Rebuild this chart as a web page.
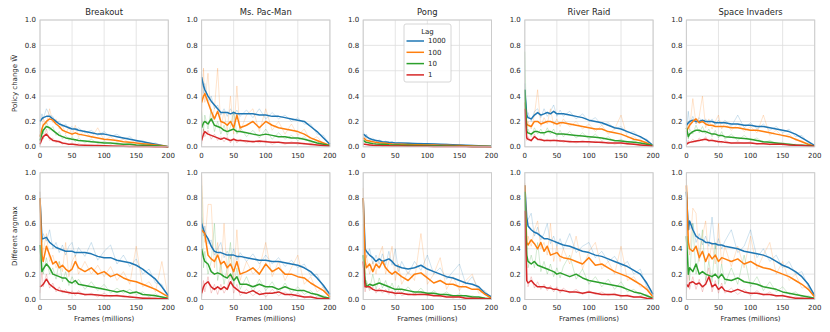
<!DOCTYPE html>
<html>
<head>
<meta charset="utf-8">
<script src="https://cdn.jsdelivr.net/npm/d3@7"></script>
<style>
  body { margin: 0; background: #fff; }
  text { font-family: "DejaVu Sans", sans-serif; fill: #262626; }
</style>
</head>
<body>
<script>
// x positions (millions of frames) shared by every series
const frames = [0, 3, 5, 10, 15, 20, 25, 30, 35, 40, 45, 50, 55, 60, 70, 80, 90, 100, 110, 120, 130, 140, 150, 160, 170, 180, 190, 200]

const games = ['Breakout', 'Ms. Pac-Man', 'Pong', 'River Raid', 'Space Invaders']
const lags = ['1000', '100', '10', '1']
const lagColors = ['#1f77b4', '#ff7f0e', '#2ca02c', '#d62728']
const rowLabels = ['Policy change W\u0305', 'Different argmax']
const xTicks = [0, 50, 100, 150, 200]
const yTicks = [0, 0.2, 0.4, 0.6, 0.8, 1.0]

// policy change means, rows in lag order 1000, 100, 10, 1
const policyBreakout = [
  [0.2, 0.22, 0.23, 0.24, 0.24, 0.22, 0.2, 0.18, 0.17, 0.16, 0.15, 0.14, 0.14, 0.13, 0.12, 0.11, 0.1, 0.1, 0.09, 0.08, 0.07, 0.06, 0.05, 0.04, 0.03, 0.02, 0.01, 0.0],
  [0.08, 0.14, 0.17, 0.2, 0.22, 0.21, 0.18, 0.16, 0.13, 0.12, 0.11, 0.1, 0.11, 0.1, 0.09, 0.08, 0.07, 0.06, 0.055, 0.05, 0.04, 0.035, 0.03, 0.025, 0.02, 0.015, 0.008, 0.0],
  [0.05, 0.1, 0.13, 0.16, 0.15, 0.13, 0.11, 0.09, 0.08, 0.07, 0.065, 0.06, 0.055, 0.05, 0.045, 0.04, 0.035, 0.03, 0.03, 0.025, 0.02, 0.02, 0.015, 0.012, 0.01, 0.008, 0.005, 0.0],
  [0.02, 0.06, 0.08, 0.1, 0.07, 0.05, 0.045, 0.04, 0.03, 0.025, 0.02, 0.02, 0.018, 0.015, 0.012, 0.01, 0.01, 0.008, 0.006, 0.005, 0.004, 0.003, 0.003, 0.002, 0.002, 0.001, 0.001, 0.0]
]
const policyPacman = [
  [0.55, 0.48, 0.45, 0.4, 0.36, 0.33, 0.3, 0.27, 0.27, 0.27, 0.26, 0.27, 0.26, 0.26, 0.26, 0.26, 0.25, 0.25, 0.24, 0.24, 0.23, 0.22, 0.21, 0.2, 0.16, 0.12, 0.07, 0.02],
  [0.35, 0.4, 0.42, 0.35, 0.28, 0.22, 0.28, 0.2, 0.19, 0.17, 0.2, 0.15, 0.25, 0.15, 0.17, 0.2, 0.15, 0.2, 0.17, 0.15, 0.14, 0.13, 0.12, 0.1, 0.07, 0.05, 0.03, 0.01],
  [0.15, 0.19, 0.2, 0.18, 0.22, 0.17, 0.16, 0.15, 0.13, 0.12, 0.13, 0.14, 0.12, 0.12, 0.11, 0.1, 0.09, 0.1, 0.09, 0.08, 0.08, 0.07, 0.07, 0.06, 0.045, 0.03, 0.02, 0.01],
  [0.05, 0.1, 0.12, 0.1, 0.09, 0.08, 0.07, 0.06, 0.07, 0.06, 0.05, 0.06, 0.05, 0.05, 0.045, 0.04, 0.045, 0.04, 0.035, 0.035, 0.03, 0.03, 0.03, 0.025, 0.02, 0.015, 0.01, 0.005]
]
const policyPong = [
  [0.1, 0.09, 0.08, 0.065, 0.055, 0.05, 0.045, 0.04, 0.038, 0.035, 0.033, 0.03, 0.03, 0.03, 0.028, 0.027, 0.025, 0.025, 0.022, 0.02, 0.018, 0.016, 0.015, 0.012, 0.01, 0.008, 0.006, 0.004],
  [0.07, 0.06, 0.05, 0.045, 0.04, 0.035, 0.032, 0.03, 0.028, 0.025, 0.022, 0.02, 0.02, 0.02, 0.018, 0.017, 0.016, 0.015, 0.014, 0.013, 0.012, 0.011, 0.01, 0.008, 0.006, 0.005, 0.004, 0.003],
  [0.05, 0.04, 0.035, 0.03, 0.025, 0.022, 0.02, 0.02, 0.018, 0.016, 0.015, 0.015, 0.014, 0.013, 0.012, 0.011, 0.01, 0.01, 0.009, 0.008, 0.007, 0.006, 0.005, 0.004, 0.003, 0.003, 0.002, 0.002],
  [0.02, 0.02, 0.018, 0.015, 0.012, 0.01, 0.01, 0.009, 0.008, 0.008, 0.007, 0.007, 0.006, 0.006, 0.005, 0.005, 0.004, 0.004, 0.003, 0.003, 0.003, 0.002, 0.002, 0.002, 0.001, 0.001, 0.001, 0.001]
]
const policyRiver = [
  [0.45, 0.25, 0.23, 0.22, 0.25, 0.27, 0.25, 0.26, 0.27, 0.26, 0.28, 0.26, 0.26, 0.26, 0.25, 0.24, 0.23, 0.21, 0.2, 0.19, 0.17, 0.15, 0.14, 0.12, 0.1, 0.08, 0.05, 0.01],
  [0.35, 0.18, 0.17, 0.16, 0.2, 0.2, 0.18, 0.19, 0.2, 0.2, 0.19, 0.18, 0.19, 0.19, 0.18, 0.17, 0.16, 0.15, 0.14, 0.14, 0.12, 0.11, 0.1, 0.08, 0.06, 0.05, 0.03, 0.005],
  [0.45, 0.12, 0.11, 0.1, 0.12, 0.12, 0.11, 0.11, 0.12, 0.12, 0.11, 0.1, 0.1, 0.1, 0.095, 0.09, 0.085, 0.08, 0.075, 0.07, 0.06, 0.05, 0.045, 0.04, 0.035, 0.03, 0.02, 0.01],
  [0.3, 0.07, 0.06, 0.05, 0.08, 0.06, 0.055, 0.05, 0.05, 0.05, 0.05, 0.05, 0.045, 0.045, 0.04, 0.04, 0.04, 0.04, 0.035, 0.035, 0.03, 0.03, 0.03, 0.025, 0.02, 0.015, 0.01, 0.005]
]
const policyInvaders = [
  [0.17, 0.19, 0.2, 0.21, 0.2, 0.2, 0.21, 0.2, 0.2, 0.2, 0.19, 0.19, 0.19, 0.19, 0.18, 0.18, 0.17, 0.17, 0.16, 0.16, 0.15, 0.14, 0.13, 0.12, 0.1, 0.07, 0.04, 0.01],
  [0.12, 0.15, 0.17, 0.2, 0.22, 0.19, 0.2, 0.18, 0.17, 0.17, 0.16, 0.16, 0.16, 0.16, 0.15, 0.15, 0.14, 0.13, 0.13, 0.12, 0.11, 0.1, 0.09, 0.08, 0.06, 0.04, 0.02, 0.005],
  [0.15, 0.08, 0.1, 0.12, 0.13, 0.13, 0.12, 0.12, 0.11, 0.1, 0.1, 0.09, 0.09, 0.08, 0.075, 0.07, 0.065, 0.06, 0.05, 0.04, 0.035, 0.03, 0.025, 0.02, 0.015, 0.012, 0.01, 0.005],
  [0.02, 0.03, 0.035, 0.04, 0.045, 0.05, 0.055, 0.06, 0.05, 0.05, 0.045, 0.04, 0.04, 0.035, 0.03, 0.03, 0.03, 0.03, 0.025, 0.025, 0.02, 0.02, 0.02, 0.015, 0.012, 0.01, 0.007, 0.004]
]

// policy change, one faint single-seed trace per lag
const policySeedBreakout = [
  [0.17, 0.26, 0.22, 0.3, 0.25, 0.24, 0.19, 0.2, 0.16, 0.18, 0.14, 0.16, 0.13, 0.15, 0.11, 0.13, 0.09, 0.12, 0.08, 0.1, 0.06, 0.08, 0.04, 0.05, 0.02, 0.03, 0.01, 0.005],
  [0.12, 0.1, 0.22, 0.18, 0.3, 0.19, 0.22, 0.14, 0.17, 0.1, 0.16, 0.09, 0.17, 0.08, 0.13, 0.07, 0.15, 0.05, 0.08, 0.04, 0.06, 0.03, 0.05, 0.02, 0.03, 0.01, 0.015, 0.002],
  [0.08, 0.14, 0.1, 0.2, 0.13, 0.16, 0.09, 0.12, 0.06, 0.09, 0.05, 0.08, 0.04, 0.07, 0.03, 0.06, 0.025, 0.045, 0.02, 0.035, 0.015, 0.03, 0.01, 0.02, 0.005, 0.012, 0.002, 0.001],
  [0.04, 0.09, 0.06, 0.14, 0.05, 0.07, 0.03, 0.05, 0.02, 0.035, 0.015, 0.03, 0.01, 0.025, 0.008, 0.015, 0.005, 0.012, 0.004, 0.008, 0.003, 0.005, 0.002, 0.004, 0.001, 0.002, 0.001, 0.0]
]
const policySeedPacman = [
  [0.58, 0.42, 0.5, 0.36, 0.4, 0.3, 0.33, 0.25, 0.3, 0.24, 0.3, 0.25, 0.29, 0.24, 0.29, 0.23, 0.3, 0.22, 0.27, 0.22, 0.25, 0.2, 0.23, 0.18, 0.18, 0.1, 0.09, 0.01],
  [0.25, 0.62, 0.35, 0.58, 0.2, 0.3, 0.62, 0.15, 0.28, 0.12, 0.4, 0.1, 0.48, 0.12, 0.25, 0.3, 0.12, 0.3, 0.13, 0.2, 0.1, 0.18, 0.09, 0.14, 0.05, 0.08, 0.02, 0.01],
  [0.28, 0.12, 0.25, 0.14, 0.3, 0.12, 0.2, 0.1, 0.17, 0.09, 0.16, 0.28, 0.1, 0.15, 0.08, 0.13, 0.07, 0.14, 0.06, 0.11, 0.06, 0.09, 0.05, 0.08, 0.03, 0.04, 0.01, 0.005],
  [0.02, 0.14, 0.08, 0.13, 0.06, 0.1, 0.05, 0.08, 0.04, 0.08, 0.03, 0.07, 0.03, 0.06, 0.03, 0.05, 0.03, 0.05, 0.02, 0.04, 0.02, 0.04, 0.02, 0.03, 0.01, 0.02, 0.005, 0.003]
]
const policySeedPong = [
  [0.13, 0.07, 0.1, 0.05, 0.07, 0.04, 0.055, 0.035, 0.045, 0.03, 0.04, 0.025, 0.035, 0.025, 0.033, 0.022, 0.03, 0.02, 0.026, 0.018, 0.022, 0.014, 0.018, 0.01, 0.012, 0.006, 0.008, 0.003],
  [0.1, 0.05, 0.07, 0.035, 0.05, 0.03, 0.04, 0.025, 0.035, 0.02, 0.028, 0.017, 0.025, 0.016, 0.022, 0.014, 0.02, 0.012, 0.017, 0.011, 0.015, 0.009, 0.012, 0.006, 0.008, 0.004, 0.005, 0.002],
  [0.07, 0.03, 0.05, 0.025, 0.03, 0.018, 0.025, 0.016, 0.022, 0.013, 0.018, 0.012, 0.017, 0.011, 0.015, 0.009, 0.012, 0.008, 0.011, 0.006, 0.009, 0.005, 0.007, 0.003, 0.004, 0.002, 0.003, 0.001],
  [0.03, 0.015, 0.025, 0.012, 0.016, 0.008, 0.013, 0.007, 0.011, 0.006, 0.009, 0.005, 0.008, 0.005, 0.007, 0.004, 0.005, 0.003, 0.004, 0.002, 0.004, 0.002, 0.003, 0.001, 0.002, 0.001, 0.001, 0.0]
]
const policySeedRiver = [
  [0.5, 0.22, 0.27, 0.2, 0.28, 0.3, 0.23, 0.3, 0.24, 0.28, 0.33, 0.24, 0.29, 0.24, 0.28, 0.22, 0.26, 0.2, 0.23, 0.17, 0.19, 0.14, 0.16, 0.11, 0.12, 0.07, 0.06, 0.01],
  [0.4, 0.15, 0.2, 0.14, 0.25, 0.45, 0.16, 0.23, 0.18, 0.3, 0.17, 0.22, 0.16, 0.22, 0.16, 0.2, 0.14, 0.18, 0.12, 0.17, 0.1, 0.14, 0.25, 0.07, 0.08, 0.04, 0.04, 0.005],
  [0.75, 0.1, 0.14, 0.08, 0.15, 0.1, 0.14, 0.09, 0.15, 0.1, 0.14, 0.08, 0.13, 0.08, 0.12, 0.07, 0.11, 0.06, 0.1, 0.05, 0.08, 0.04, 0.06, 0.03, 0.05, 0.02, 0.03, 0.005],
  [0.35, 0.05, 0.08, 0.04, 0.1, 0.05, 0.07, 0.04, 0.06, 0.04, 0.06, 0.04, 0.055, 0.035, 0.05, 0.03, 0.05, 0.03, 0.045, 0.025, 0.04, 0.02, 0.035, 0.02, 0.025, 0.01, 0.015, 0.003]
]
const policySeedInvaders = [
  [0.14, 0.28, 0.18, 0.24, 0.18, 0.23, 0.19, 0.22, 0.18, 0.22, 0.17, 0.21, 0.18, 0.21, 0.16, 0.25, 0.15, 0.19, 0.14, 0.18, 0.13, 0.16, 0.11, 0.14, 0.08, 0.09, 0.03, 0.01],
  [0.1, 0.2, 0.14, 0.38, 0.18, 0.24, 0.4, 0.15, 0.22, 0.14, 0.2, 0.25, 0.14, 0.19, 0.13, 0.18, 0.12, 0.16, 0.11, 0.25, 0.09, 0.13, 0.08, 0.1, 0.05, 0.05, 0.015, 0.003],
  [0.2, 0.06, 0.14, 0.1, 0.17, 0.11, 0.16, 0.1, 0.14, 0.08, 0.13, 0.07, 0.12, 0.06, 0.1, 0.05, 0.09, 0.05, 0.07, 0.03, 0.05, 0.025, 0.035, 0.015, 0.02, 0.008, 0.012, 0.003],
  [0.01, 0.05, 0.03, 0.06, 0.035, 0.07, 0.045, 0.08, 0.04, 0.065, 0.035, 0.055, 0.03, 0.05, 0.025, 0.04, 0.025, 0.04, 0.02, 0.035, 0.015, 0.03, 0.015, 0.02, 0.008, 0.014, 0.005, 0.003]
]

// different argmax means, rows in lag order 1000, 100, 10, 1
const argmaxBreakout = [
  [0.8, 0.48, 0.48, 0.49, 0.45, 0.43, 0.41, 0.4, 0.39, 0.38, 0.38, 0.38, 0.37, 0.37, 0.37, 0.36, 0.34, 0.33, 0.33, 0.31, 0.3, 0.29, 0.27, 0.24, 0.2, 0.16, 0.1, 0.03],
  [0.8, 0.35, 0.3, 0.42, 0.35, 0.28, 0.3, 0.25, 0.27, 0.24, 0.22, 0.24, 0.3, 0.25, 0.22, 0.25, 0.2, 0.22, 0.18, 0.2, 0.17, 0.15, 0.14, 0.12, 0.1, 0.08, 0.05, 0.02],
  [0.43, 0.22, 0.24, 0.28, 0.25, 0.2, 0.19, 0.18, 0.17, 0.17, 0.14, 0.13, 0.15, 0.12, 0.11, 0.1, 0.09, 0.08, 0.07, 0.06, 0.07, 0.05, 0.06, 0.04, 0.035, 0.03, 0.02, 0.01],
  [0.1, 0.11, 0.12, 0.16, 0.12, 0.1, 0.08, 0.07, 0.065, 0.06, 0.055, 0.05, 0.05, 0.05, 0.04, 0.04, 0.035, 0.03, 0.03, 0.03, 0.025, 0.02, 0.015, 0.01, 0.01, 0.008, 0.006, 0.005]
]
const argmaxPacman = [
  [0.6, 0.55, 0.52, 0.48, 0.42, 0.38, 0.37, 0.37, 0.36, 0.35, 0.35, 0.35, 0.34, 0.34, 0.33, 0.32, 0.31, 0.31, 0.3, 0.3, 0.29, 0.28, 0.27, 0.25, 0.22, 0.17, 0.11, 0.04],
  [0.55, 0.53, 0.52, 0.35, 0.32, 0.3, 0.35, 0.28, 0.3, 0.25, 0.28, 0.22, 0.3, 0.2, 0.22, 0.25, 0.2, 0.28, 0.22, 0.25, 0.2, 0.2, 0.18, 0.17, 0.13, 0.1, 0.07, 0.02],
  [0.4, 0.33, 0.3, 0.28, 0.22, 0.2, 0.21, 0.2, 0.18, 0.17, 0.2, 0.15, 0.18, 0.12, 0.12, 0.1, 0.12, 0.1, 0.1, 0.08, 0.1, 0.08, 0.07, 0.07, 0.05, 0.04, 0.02, 0.01],
  [0.05, 0.1, 0.12, 0.14, 0.1, 0.08, 0.1, 0.08, 0.1, 0.08, 0.14, 0.1, 0.08, 0.06, 0.05, 0.07, 0.04, 0.05, 0.05, 0.06, 0.04, 0.04, 0.03, 0.02, 0.02, 0.01, 0.008, 0.005]
]
const argmaxPong = [
  [0.8, 0.4, 0.38, 0.35, 0.33, 0.3, 0.32, 0.3, 0.31, 0.32, 0.3, 0.27, 0.26, 0.25, 0.24, 0.25, 0.27, 0.24, 0.22, 0.2, 0.18, 0.17, 0.15, 0.13, 0.12, 0.1, 0.05, 0.02],
  [0.8, 0.3, 0.25, 0.28, 0.22, 0.28, 0.25, 0.3, 0.25, 0.22, 0.2, 0.22, 0.2, 0.18, 0.15, 0.2, 0.21, 0.17, 0.13, 0.15, 0.12, 0.12, 0.1, 0.1, 0.08, 0.08, 0.04, 0.01],
  [0.35, 0.15, 0.1, 0.12, 0.11, 0.12, 0.13, 0.12, 0.11, 0.1, 0.09, 0.08, 0.08, 0.08, 0.07, 0.06, 0.06, 0.05, 0.05, 0.04, 0.04, 0.03, 0.03, 0.03, 0.02, 0.02, 0.01, 0.005],
  [0.3, 0.1, 0.1, 0.1, 0.08, 0.07, 0.07, 0.07, 0.065, 0.06, 0.055, 0.05, 0.05, 0.05, 0.04, 0.04, 0.04, 0.04, 0.03, 0.03, 0.02, 0.02, 0.02, 0.01, 0.01, 0.008, 0.005, 0.003]
]
const argmaxRiver = [
  [0.9, 0.65, 0.58, 0.55, 0.53, 0.52, 0.5, 0.48, 0.48, 0.47, 0.46, 0.45, 0.44, 0.43, 0.42, 0.4, 0.38, 0.37, 0.35, 0.34, 0.32, 0.3, 0.28, 0.26, 0.23, 0.2, 0.13, 0.04],
  [0.9, 0.45, 0.43, 0.47, 0.44, 0.4, 0.45, 0.38, 0.42, 0.35, 0.36, 0.37, 0.34, 0.33, 0.32, 0.3, 0.28, 0.33, 0.27, 0.28, 0.25, 0.22, 0.2, 0.18, 0.15, 0.12, 0.08, 0.02],
  [0.85, 0.35, 0.3, 0.28, 0.3, 0.27, 0.26, 0.25, 0.24, 0.23, 0.22, 0.2, 0.21, 0.2, 0.18, 0.2, 0.17, 0.15, 0.14, 0.13, 0.12, 0.11, 0.1, 0.08, 0.06, 0.05, 0.03, 0.01],
  [0.7, 0.15, 0.13, 0.15, 0.12, 0.1, 0.1, 0.1, 0.09, 0.09, 0.08, 0.08, 0.07, 0.07, 0.06, 0.06, 0.05, 0.06, 0.05, 0.04, 0.04, 0.04, 0.03, 0.03, 0.02, 0.02, 0.01, 0.005]
]
const argmaxInvaders = [
  [0.85, 0.55, 0.62, 0.55, 0.5, 0.48, 0.47, 0.45, 0.45, 0.44, 0.44, 0.43, 0.43, 0.42, 0.41, 0.4, 0.38, 0.37, 0.36, 0.35, 0.33, 0.3, 0.27, 0.25, 0.22, 0.18, 0.12, 0.03],
  [0.9, 0.45, 0.4, 0.38, 0.42, 0.33, 0.38, 0.3, 0.36, 0.32, 0.35, 0.3, 0.33, 0.32, 0.3, 0.32, 0.28, 0.3, 0.27, 0.25, 0.24, 0.22, 0.2, 0.18, 0.15, 0.12, 0.08, 0.02],
  [0.5, 0.2, 0.25, 0.22, 0.28, 0.2, 0.22, 0.2, 0.19, 0.18, 0.2, 0.17, 0.2, 0.16, 0.15, 0.17, 0.14, 0.13, 0.12, 0.1, 0.09, 0.08, 0.06, 0.05, 0.04, 0.03, 0.02, 0.01],
  [0.12, 0.1, 0.13, 0.14, 0.12, 0.13, 0.1, 0.12, 0.18, 0.1, 0.12, 0.08, 0.1, 0.07, 0.06, 0.08, 0.06, 0.05, 0.05, 0.04, 0.04, 0.03, 0.03, 0.02, 0.01, 0.01, 0.008, 0.005]
]

// different argmax, one faint single-seed trace per lag
const argmaxSeedBreakout = [
  [0.85, 0.45, 0.52, 0.46, 0.55, 0.4, 0.45, 0.37, 0.43, 0.35, 0.42, 0.45, 0.34, 0.41, 0.34, 0.45, 0.31, 0.38, 0.43, 0.28, 0.35, 0.26, 0.32, 0.2, 0.24, 0.13, 0.12, 0.02],
  [0.85, 0.3, 0.38, 0.52, 0.3, 0.35, 0.25, 0.3, 0.22, 0.45, 0.18, 0.3, 0.35, 0.2, 0.3, 0.2, 0.27, 0.18, 0.26, 0.15, 0.22, 0.12, 0.42, 0.1, 0.14, 0.06, 0.3, 0.01],
  [0.3, 0.5, 0.2, 0.33, 0.2, 0.25, 0.16, 0.3, 0.14, 0.22, 0.11, 0.18, 0.12, 0.16, 0.08, 0.14, 0.07, 0.12, 0.05, 0.09, 0.05, 0.08, 0.04, 0.06, 0.02, 0.045, 0.01, 0.005],
  [0.05, 0.22, 0.1, 0.2, 0.09, 0.13, 0.06, 0.1, 0.05, 0.08, 0.04, 0.07, 0.03, 0.07, 0.03, 0.05, 0.02, 0.05, 0.02, 0.04, 0.015, 0.03, 0.01, 0.015, 0.005, 0.012, 0.003, 0.002]
]
const argmaxSeedPacman = [
  [0.65, 0.5, 0.58, 0.44, 0.47, 0.35, 0.4, 0.45, 0.33, 0.38, 0.32, 0.4, 0.31, 0.37, 0.3, 0.36, 0.28, 0.35, 0.28, 0.33, 0.26, 0.31, 0.25, 0.28, 0.19, 0.2, 0.09, 0.03],
  [0.98, 0.6, 0.45, 0.75, 0.75, 0.25, 0.45, 0.2, 0.6, 0.18, 0.35, 0.15, 0.55, 0.15, 0.3, 0.2, 0.25, 0.45, 0.18, 0.3, 0.15, 0.25, 0.35, 0.12, 0.18, 0.06, 0.1, 0.01],
  [0.9, 0.25, 0.38, 0.2, 0.3, 0.6, 0.15, 0.28, 0.12, 0.25, 0.45, 0.1, 0.25, 0.08, 0.18, 0.06, 0.16, 0.07, 0.14, 0.05, 0.13, 0.05, 0.1, 0.04, 0.07, 0.02, 0.03, 0.005],
  [0.02, 0.15, 0.06, 0.18, 0.05, 0.12, 0.04, 0.12, 0.05, 0.1, 0.2, 0.05, 0.12, 0.03, 0.08, 0.03, 0.07, 0.02, 0.08, 0.03, 0.06, 0.02, 0.05, 0.01, 0.03, 0.005, 0.012, 0.002]
]
const argmaxSeedPong = [
  [0.6, 0.42, 0.33, 0.4, 0.28, 0.35, 0.28, 0.36, 0.27, 0.38, 0.27, 0.4, 0.22, 0.3, 0.2, 0.3, 0.23, 0.35, 0.2, 0.25, 0.16, 0.22, 0.28, 0.12, 0.18, 0.08, 0.07, 0.01],
  [0.88, 0.2, 0.35, 0.2, 0.3, 0.2, 0.35, 0.42, 0.2, 0.3, 0.42, 0.15, 0.28, 0.12, 0.22, 0.15, 0.52, 0.12, 0.2, 0.33, 0.08, 0.18, 0.07, 0.15, 0.2, 0.05, 0.06, 0.005],
  [0.7, 0.1, 0.15, 0.08, 0.2, 0.08, 0.17, 0.09, 0.15, 0.07, 0.13, 0.06, 0.11, 0.05, 0.1, 0.04, 0.09, 0.03, 0.07, 0.03, 0.06, 0.02, 0.045, 0.02, 0.03, 0.01, 0.015, 0.003],
  [0.15, 0.06, 0.13, 0.07, 0.1, 0.05, 0.09, 0.05, 0.08, 0.04, 0.07, 0.03, 0.07, 0.03, 0.05, 0.03, 0.05, 0.03, 0.04, 0.02, 0.03, 0.01, 0.025, 0.005, 0.015, 0.003, 0.008, 0.001]
]
const argmaxSeedRiver = [
  [0.8, 0.6, 0.63, 0.68, 0.5, 0.57, 0.47, 0.52, 0.6, 0.44, 0.5, 0.42, 0.48, 0.4, 0.52, 0.37, 0.42, 0.45, 0.33, 0.38, 0.3, 0.34, 0.26, 0.3, 0.2, 0.24, 0.1, 0.03],
  [0.92, 0.4, 0.5, 0.42, 0.55, 0.62, 0.4, 0.45, 0.35, 0.6, 0.3, 0.42, 0.3, 0.4, 0.28, 0.5, 0.24, 0.38, 0.45, 0.24, 0.3, 0.2, 0.42, 0.15, 0.18, 0.1, 0.1, 0.01],
  [0.7, 0.4, 0.25, 0.35, 0.25, 0.45, 0.22, 0.3, 0.2, 0.28, 0.18, 0.25, 0.17, 0.26, 0.35, 0.16, 0.24, 0.12, 0.18, 0.1, 0.16, 0.08, 0.14, 0.06, 0.08, 0.03, 0.04, 0.005],
  [0.5, 0.3, 0.1, 0.18, 0.09, 0.14, 0.08, 0.12, 0.07, 0.11, 0.06, 0.1, 0.05, 0.09, 0.05, 0.08, 0.04, 0.07, 0.04, 0.06, 0.03, 0.05, 0.02, 0.04, 0.015, 0.025, 0.008, 0.003]
]
const argmaxSeedInvaders = [
  [0.88, 0.6, 0.55, 0.6, 0.45, 0.52, 0.43, 0.5, 0.42, 0.65, 0.4, 0.48, 0.4, 0.46, 0.55, 0.37, 0.42, 0.55, 0.33, 0.4, 0.3, 0.35, 0.25, 0.3, 0.2, 0.22, 0.1, 0.02],
  [0.95, 0.5, 0.35, 0.72, 0.68, 0.3, 0.5, 0.62, 0.3, 0.45, 0.28, 0.6, 0.28, 0.42, 0.26, 0.42, 0.25, 0.5, 0.24, 0.35, 0.45, 0.2, 0.3, 0.15, 0.2, 0.09, 0.1, 0.01],
  [0.8, 0.3, 0.15, 0.6, 0.2, 0.35, 0.55, 0.15, 0.3, 0.14, 0.45, 0.12, 0.28, 0.12, 0.25, 0.12, 0.35, 0.1, 0.18, 0.07, 0.14, 0.06, 0.1, 0.04, 0.06, 0.02, 0.03, 0.005],
  [0.05, 0.25, 0.08, 0.18, 0.08, 0.16, 0.06, 0.15, 0.25, 0.06, 0.15, 0.05, 0.13, 0.05, 0.09, 0.04, 0.08, 0.03, 0.07, 0.03, 0.06, 0.02, 0.04, 0.01, 0.02, 0.005, 0.01, 0.002]
]

const rows = [
  [policyBreakout, policyPacman, policyPong, policyRiver, policyInvaders],
  [argmaxBreakout, argmaxPacman, argmaxPong, argmaxRiver, argmaxInvaders]
]
const seedRows = [
  [policySeedBreakout, policySeedPacman, policySeedPong, policySeedRiver, policySeedInvaders],
  [argmaxSeedBreakout, argmaxSeedPacman, argmaxSeedPong, argmaxSeedRiver, argmaxSeedInvaders]
]

// layout
const width = 830
const height = 332
const panelW = 128.3
const colStep = 161.6
const left0 = 40
const rowTops = [20, 172.7]
const panelH = 126.8

let svg = d3
  .select('body')
  .append('svg')
  .attr('width', width)
  .attr('height', height)

let x = d3
  .scaleLinear()
  .domain([0, 200])
  .range([0, panelW])

let y = d3
  .scaleLinear()
  .domain([0, 1])
  .range([panelH, 0])

let line = d3
  .line()
  .x((d, i) => x(frames[i]))
  .y((d) => y(d))

rows.forEach((row, r) => {
  row.forEach((series, c) => {
    let g = svg
      .append('g')
      .attr('transform', `translate(${left0 + c * colStep},${rowTops[r]})`)

    // grid
    g.append('g')
      .selectAll('line')
      .data(xTicks)
      .join('line')
      .attr('x1', (d) => x(d))
      .attr('x2', (d) => x(d))
      .attr('y1', 0)
      .attr('y2', panelH)
      .attr('stroke', '#dedede')
      .attr('stroke-width', 0.8)

    g.append('g')
      .selectAll('line')
      .data(yTicks)
      .join('line')
      .attr('x1', 0)
      .attr('x2', panelW)
      .attr('y1', (d) => y(d))
      .attr('y2', (d) => y(d))
      .attr('stroke', '#dedede')
      .attr('stroke-width', 0.8)

    // faint single seed traces
    g.append('g')
      .selectAll('path')
      .data(seedRows[r][c])
      .join('path')
      .attr('d', line)
      .attr('fill', 'none')
      .attr('stroke', (d, i) => lagColors[i])
      .attr('stroke-opacity', 0.3)
      .attr('stroke-width', 0.7)

    // mean lines
    g.append('g')
      .selectAll('path')
      .data(series)
      .join('path')
      .attr('d', line)
      .attr('fill', 'none')
      .attr('stroke', (d, i) => lagColors[i])
      .attr('stroke-width', 1.5)
      .attr('stroke-linejoin', 'round')

    // frame
    g.append('rect')
      .attr('width', panelW)
      .attr('height', panelH)
      .attr('fill', 'none')
      .attr('stroke', '#cccccc')
      .attr('stroke-width', 1)

    // tick labels
    g.append('g')
      .selectAll('text')
      .data(yTicks)
      .join('text')
      .attr('x', -4)
      .attr('y', (d) => y(d))
      .attr('dy', '0.35em')
      .attr('text-anchor', 'end')
      .style('font-size', '7px')
      .text((d) => d.toFixed(1))

    g.append('g')
      .selectAll('text')
      .data(xTicks)
      .join('text')
      .attr('x', (d) => x(d))
      .attr('y', panelH + 11)
      .attr('text-anchor', 'middle')
      .style('font-size', '7px')
      .text((d) => d)

    if (r === 0) {
      g.append('text')
        .attr('x', panelW / 2)
        .attr('y', -5)
        .attr('text-anchor', 'middle')
        .style('font-size', '8.4px')
        .text(games[c])
    } else {
      g.append('text')
        .attr('x', panelW / 2)
        .attr('y', panelH + 22)
        .attr('text-anchor', 'middle')
        .style('font-size', '7px')
        .text('Frames (millions)')
    }

    if (c === 0) {
      g.append('text')
        .attr('transform', `translate(-23,${panelH / 2}) rotate(-90)`)
        .attr('text-anchor', 'middle')
        .style('font-size', '7px')
        .text(rowLabels[r])
    }
  })
})

// legend inside the Pong policy panel
let legend = svg
  .append('g')
  .attr('transform', 'translate(404,24)')

legend
  .append('rect')
  .attr('width', 47)
  .attr('height', 58)
  .attr('rx', 2)
  .attr('fill', 'white')
  .attr('fill-opacity', 0.85)
  .attr('stroke', '#cccccc')
  .attr('stroke-width', 0.8)

legend
  .append('text')
  .attr('x', 23.5)
  .attr('y', 10)
  .attr('text-anchor', 'middle')
  .style('font-size', '7px')
  .text('Lag')

let entry = legend
  .selectAll('g.entry')
  .data(lags)
  .join('g')
  .attr('class', 'entry')
  .attr('transform', (d, i) => `translate(0,${17 + i * 11.3})`)

entry
  .append('line')
  .attr('x1', 2.5)
  .attr('x2', 20)
  .attr('stroke', (d, i) => lagColors[i])
  .attr('stroke-width', 1.5)

entry
  .append('text')
  .attr('x', 24)
  .attr('dy', '0.35em')
  .style('font-size', '7px')
  .text((d) => d)
</script>
</body>
</html>
